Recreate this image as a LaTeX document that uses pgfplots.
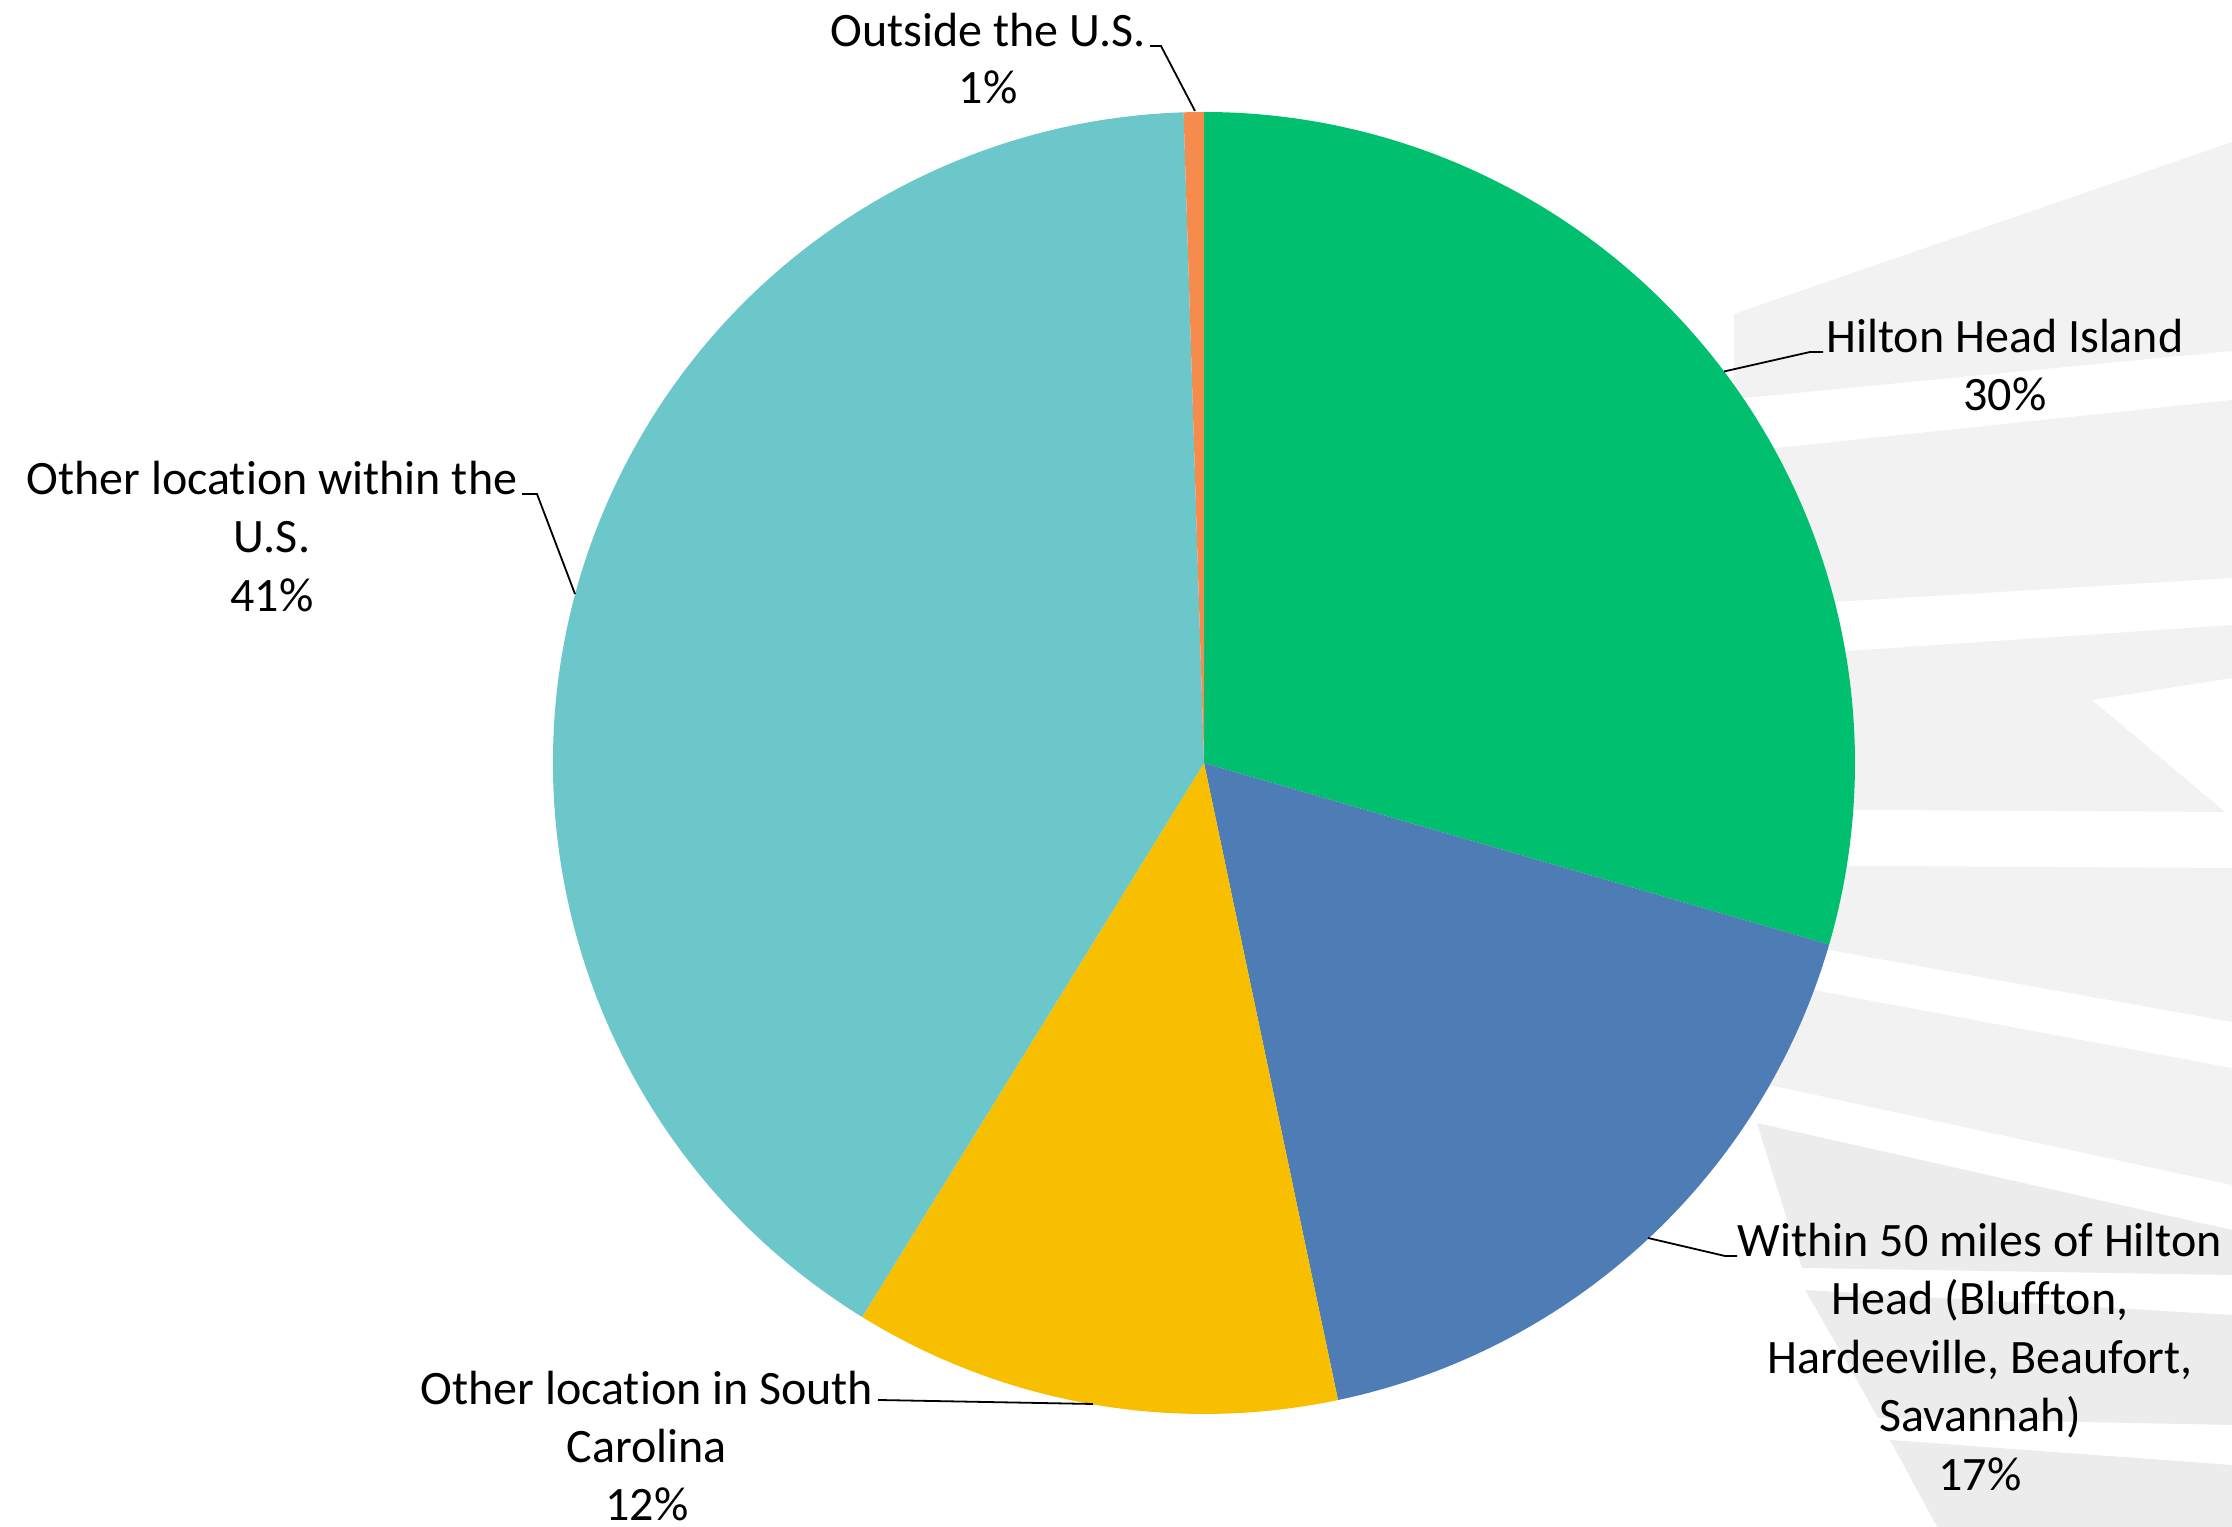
\documentclass[border=0pt]{standalone}
\usepackage{pgfplots}
\usepackage{pgfplotstable}
\pgfplotsset{compat=1.18}
\usepackage{fontspec}
\setmainfont{Carlito}[Ligatures=NoCommon]
\definecolor{cGreen}{HTML}{00BF6F}
\definecolor{cBlue}{HTML}{4E7CB5}
\definecolor{cYellow}{HTML}{F8BF00}
\definecolor{cTeal}{HTML}{6CC7CB}
\definecolor{cOrange}{HTML}{F58B4C}
\definecolor{wm}{HTML}{F2F2F2}
\definecolor{wmb}{HTML}{ECECEC}
% share of respondents (%), clockwise from 12 o'clock
\pgfplotstableread{
name value
HiltonHeadIsland 29.5
Within50miles 17.2
OtherSC 12.1
OtherUS 40.7
OutsideUS 0.5
}\piedata
\pgfplotstablegetelem{0}{value}\of\piedata \pgfmathsetmacro\vA{\pgfplotsretval}
\pgfplotstablegetelem{1}{value}\of\piedata \pgfmathsetmacro\vB{\pgfplotsretval}
\pgfplotstablegetelem{2}{value}\of\piedata \pgfmathsetmacro\vC{\pgfplotsretval}
\pgfplotstablegetelem{3}{value}\of\piedata \pgfmathsetmacro\vD{\pgfplotsretval}
\pgfplotstablegetelem{4}{value}\of\piedata \pgfmathsetmacro\vE{\pgfplotsretval}
\pgfmathsetmacro\aA{90}
\pgfmathsetmacro\aB{\aA-3.6*\vA}
\pgfmathsetmacro\aC{\aB-3.6*\vB}
\pgfmathsetmacro\aD{\aC-3.6*\vC}
\pgfmathsetmacro\aE{\aD-3.6*\vD}
\pgfmathsetmacro\aF{\aE-3.6*\vE}
\def\R{162.75pt}
\begin{document}
\begin{tikzpicture}[lbl/.style={anchor=base, inner sep=0pt, font=\fontsize{12}{14.4}\selectfont},
  lead/.style={black, line width=0.45pt}]
\begin{axis}[width=558pt, height=381.75pt, scale only axis,
  xmin=0, xmax=2232, ymin=0, ymax=1527, y dir=reverse,
  hide axis, clip=false]
% faint background watermark bands
\fill[wm] (axis cs:1734,314) -- (axis cs:2232,142) -- (axis cs:2232,351) -- (axis cs:1734,399) -- cycle;
\fill[wm] (axis cs:1700,456) -- (axis cs:2232,400) -- (axis cs:2232,578) -- (axis cs:1700,610) -- cycle;
\fill[wm] (axis cs:1700,661) -- (axis cs:2232,625) -- (axis cs:2232,678) -- (axis cs:2092,700) -- (axis cs:2225,812) -- (axis cs:1700,809) -- cycle;
\fill[wm] (axis cs:1700,865) -- (axis cs:2232,868) -- (axis cs:2232,1022) -- (axis cs:1700,927) -- cycle;
\fill[wm] (axis cs:1700,969) -- (axis cs:2232,1068) -- (axis cs:2232,1185) -- (axis cs:1700,1070) -- cycle;
\fill[wmb] (axis cs:1757,1123) -- (axis cs:2232,1230) -- (axis cs:2232,1275) -- (axis cs:1802,1268) -- cycle;
\fill[wmb] (axis cs:1805,1290) -- (axis cs:2232,1315) -- (axis cs:2232,1425) -- (axis cs:1878,1418) -- (axis cs:1853,1373) -- cycle;
\fill[wmb] (axis cs:1890,1440) -- (axis cs:2232,1465) -- (axis cs:2232,1527) -- (axis cs:1937,1527) -- cycle;
% pie slices
\fill[cGreen] (axis cs:1204,763) -- ++(\aA:\R) arc[start angle=\aA, end angle=\aB, radius=\R] -- cycle;
\fill[cBlue] (axis cs:1204,763) -- ++(\aB:\R) arc[start angle=\aB, end angle=\aC, radius=\R] -- cycle;
\fill[cYellow] (axis cs:1204,763) -- ++(\aC:\R) arc[start angle=\aC, end angle=\aD, radius=\R] -- cycle;
\fill[cTeal] (axis cs:1204,763) -- ++(\aD:\R) arc[start angle=\aD, end angle=\aE, radius=\R] -- cycle;
\fill[cOrange] (axis cs:1204,763) -- ++(\aE:\R) arc[start angle=\aE, end angle=\aF, radius=\R] -- cycle;
% leader lines
\draw[lead] (axis cs:1150,46) -- (axis cs:1161,46) -- (axis cs:1195,111);
\draw[lead] (axis cs:1724,371.5) -- (axis cs:1810,352) -- (axis cs:1823,352);
\draw[lead] (axis cs:522,494) -- (axis cs:537,494) -- (axis cs:575,594);
\draw[lead] (axis cs:878,1400) -- (axis cs:1093,1404);
\draw[lead] (axis cs:1648,1238) -- (axis cs:1725,1256) -- (axis cs:1737,1256);
% labels
\node[lbl] at (axis cs:988,46.5) {Outside the U.S.};
\node[lbl] at (axis cs:988,104) {1\%};
\node[lbl] at (axis cs:2005,352.8) {Hilton Head Island};
\node[lbl] at (axis cs:2005,410.5) {30\%};
\node[lbl] at (axis cs:272,494.7) {Other location within the};
\node[lbl] at (axis cs:272,553) {U.S.};
\node[lbl] at (axis cs:272,611.4) {41\%};
\node[lbl] at (axis cs:647,1404.5) {Other location in South};
\node[lbl] at (axis cs:647,1463) {Carolina};
\node[lbl] at (axis cs:647,1521) {12\%};
\node[lbl] at (axis cs:1980,1257) {Within 50 miles of Hilton};
\node[lbl] at (axis cs:1980,1315) {Head (Bluffton,};
\node[lbl] at (axis cs:1980,1373.5) {Hardeeville, Beaufort,};
\node[lbl] at (axis cs:1980,1432) {Savannah)};
\node[lbl] at (axis cs:1980,1491) {17\%};
\coordinate (LL) at (axis cs:0,1527);
\coordinate (UR) at (axis cs:2232,0);
\end{axis}
\pgfresetboundingbox
\path (LL) rectangle (UR);
\end{tikzpicture}
\end{document}
